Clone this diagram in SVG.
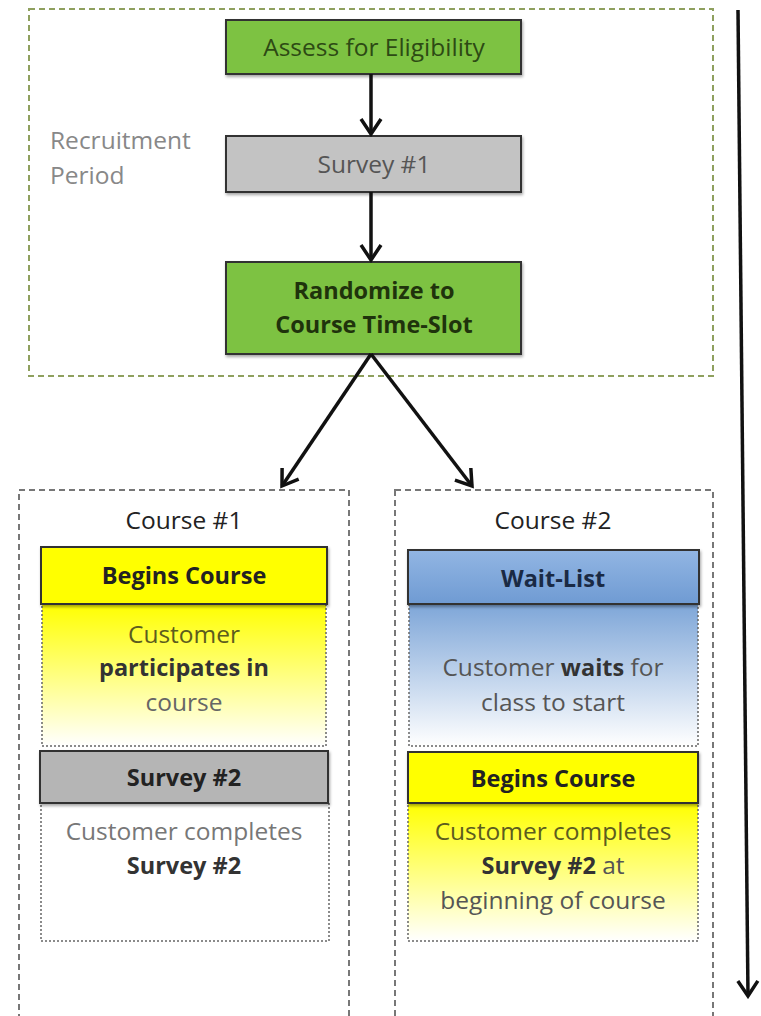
<svg xmlns="http://www.w3.org/2000/svg" width="761" height="1016" viewBox="0 0 761 1016">
<style>
text{font-family:"Open Sans","Liberation Sans",sans-serif;text-anchor:middle}
.t{font-size:24.5px}
.b{font-weight:bold;font-size:23.5px}
.hdr{stroke:#333;stroke-width:2}
.dot{stroke:#666;stroke-width:1.5;stroke-dasharray:2 2}
.conn{stroke:#111;stroke-width:3.5;fill:none;marker-end:url(#ah)}
</style>
<defs>
<marker id="ah" viewBox="0 0 20 24" refX="17" refY="12" markerWidth="20" markerHeight="24" markerUnits="userSpaceOnUse" orient="auto">
<path d="M2,2 L17,12 L2,22" fill="none" stroke="#111" stroke-width="3.5"/>
</marker>
<linearGradient id="gy" x1="0" y1="0" x2="0" y2="1"><stop offset="0" stop-color="#ffff00"/><stop offset="1" stop-color="#ffffff"/></linearGradient>
<linearGradient id="gb" x1="0" y1="0" x2="0" y2="1"><stop offset="0" stop-color="#7ea6d8"/><stop offset="1" stop-color="#ffffff"/></linearGradient>
<linearGradient id="gbh" x1="0" y1="0" x2="0" y2="1"><stop offset="0" stop-color="#92b6e3"/><stop offset="1" stop-color="#6f9bd3"/></linearGradient>
<filter id="sh" x="-5%" y="-5%" width="110%" height="120%"><feDropShadow dx="1" dy="2" stdDeviation="1.5" flood-color="#000" flood-opacity="0.35"/></filter>
</defs>

<g id="recruitment">
<rect x="29" y="9" width="684" height="367" fill="none" stroke="#8fa05e" stroke-width="2" stroke-dasharray="6 4"/>
<text x="50" y="149" class="t" fill="#888" style="text-anchor:start">Recruitment</text>
<text x="50" y="184" class="t" fill="#888" style="text-anchor:start">Period</text>
</g>

<g id="assess">
<rect x="226" y="20" width="295" height="54" fill="#7dc242" class="hdr" filter="url(#sh)"/>
<text x="374" y="56" class="t" fill="#2d4a14">Assess for Eligibility</text>
</g>
<g id="survey1">
<rect x="226" y="136" width="295" height="56" fill="#c3c3c3" class="hdr" filter="url(#sh)"/>
<text x="374" y="173" class="t" fill="#555">Survey #1</text>
</g>
<g id="randomize">
<rect x="226" y="262" width="295" height="92" fill="#7dc242" class="hdr" filter="url(#sh)"/>
<text x="374" y="299" class="b" fill="#1f330c">Randomize to</text>
<text x="374" y="333" class="b" fill="#1f330c">Course Time-Slot</text>
</g>

<g id="course1">
<rect x="19" y="490" width="330" height="530" fill="none" stroke="#777" stroke-width="2" stroke-dasharray="6 4"/>
<text x="184" y="529" class="t" fill="#222">Course #1</text>
<rect x="42" y="604" width="284" height="142" fill="url(#gy)" class="dot"/>
<rect x="41" y="547" width="286" height="57" fill="#ffff00" class="hdr" filter="url(#sh)"/>
<text x="184" y="584" class="b" fill="#222">Begins Course</text>
<text x="184" y="643" class="t" fill="#5c5c1e">Customer</text>
<text x="184" y="676" class="b" fill="#333">participates in</text>
<text x="184" y="711" class="t" fill="#666">course</text>
<rect x="41" y="803" width="288" height="138" fill="#fff" class="dot"/>
<rect x="40" y="751" width="288" height="52" fill="#b5b5b5" class="hdr" filter="url(#sh)"/>
<text x="184" y="786" class="b" fill="#222">Survey #2</text>
<text x="184" y="840" class="t" fill="#777">Customer completes</text>
<text x="184" y="874" class="b" fill="#333">Survey #2</text>
</g>

<g id="course2">
<rect x="395" y="490" width="318" height="530" fill="none" stroke="#777" stroke-width="2" stroke-dasharray="6 4"/>
<text x="553" y="529" class="t" fill="#222">Course #2</text>
<rect x="409" y="604" width="289" height="142" fill="url(#gb)" class="dot"/>
<rect x="408" y="550" width="291" height="54" fill="url(#gbh)" class="hdr" filter="url(#sh)"/>
<text x="553" y="587" class="b" fill="#1a2a44">Wait-List</text>
<text x="553" y="676" class="t" fill="#555"><tspan>Customer </tspan><tspan font-weight="bold" font-size="23.5" fill="#333">waits</tspan><tspan> for</tspan></text>
<text x="553" y="711" class="t" fill="#555">class to start</text>
<rect x="408" y="803" width="290" height="138" fill="url(#gy)" class="dot"/>
<rect x="408" y="752" width="290" height="51" fill="#ffff00" class="hdr" filter="url(#sh)"/>
<text x="553" y="787" class="b" fill="#222">Begins Course</text>
<text x="553" y="840" class="t" fill="#5c5c1e">Customer completes</text>
<text x="553" y="874" class="t" fill="#555"><tspan font-weight="bold" font-size="23.5" fill="#333">Survey #2</tspan><tspan> at</tspan></text>
<text x="553" y="909" class="t" fill="#555">beginning of course</text>
</g>

<g id="connectors">
<line x1="371" y1="74" x2="371" y2="134" class="conn"/>
<line x1="371" y1="192" x2="371" y2="260" class="conn"/>
<line x1="371" y1="354" x2="282" y2="486" class="conn"/>
<line x1="371" y1="354" x2="472" y2="486" class="conn"/>
<line x1="738" y1="10" x2="748" y2="996" class="conn"/>
</g>
</svg>
